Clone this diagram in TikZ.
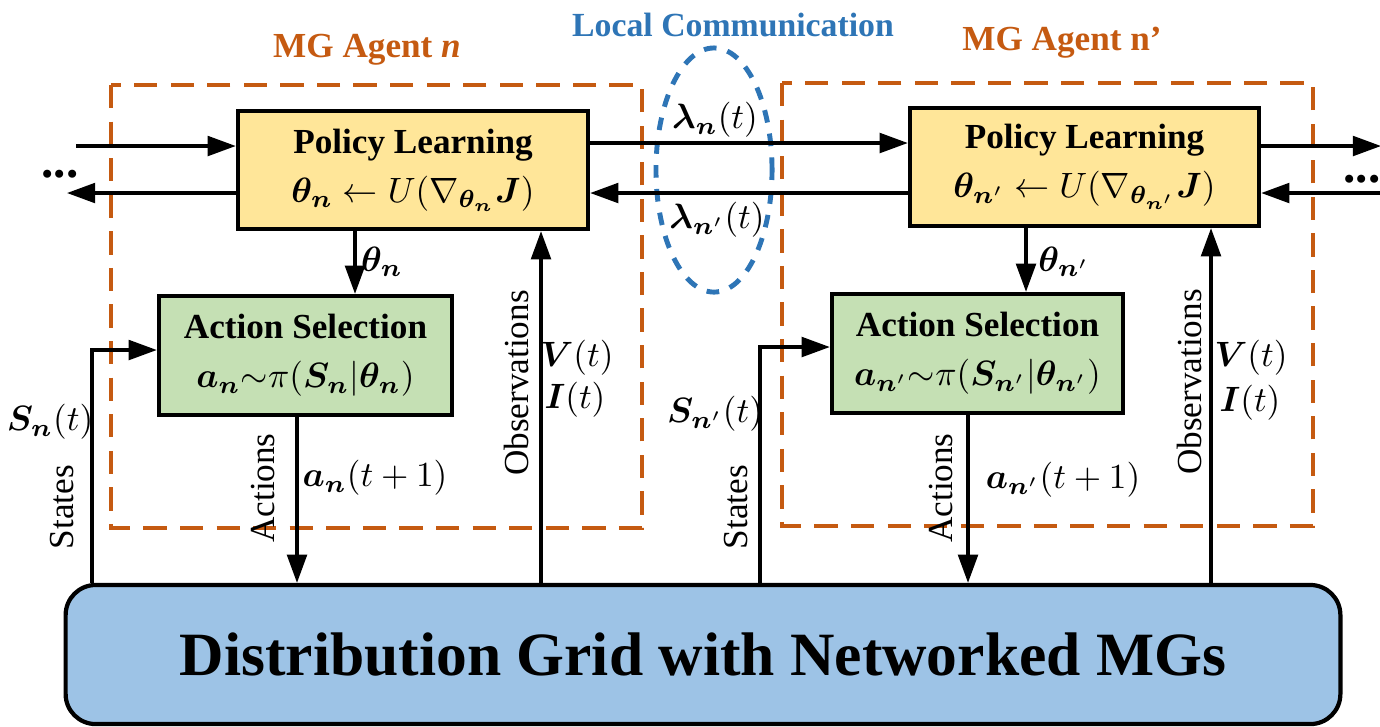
\documentclass[tikz,border=0pt]{standalone}
\usepackage{fontspec}
\setmainfont{Liberation Serif}
\usepackage{amsmath,bm}
\usetikzlibrary{arrows.meta,calc}

\definecolor{agentorange}{HTML}{C55A11}
\definecolor{commblue}{HTML}{2E75B6}
\definecolor{policyfill}{HTML}{FFE699}
\definecolor{actionfill}{HTML}{C5E0B4}
\definecolor{gridfill}{HTML}{9DC3E6}

\tikzset{
  block/.style={draw=black, line width=1.2pt, inner sep=0pt, align=center,
    font=\fontsize{10}{14}\selectfont},
  arr/.style={-{Triangle[length=8pt,width=5.6pt]}, line width=0.9pt},
  lbl/.style={inner sep=0pt, font=\fontsize{10}{12}\selectfont},
  vlbl/.style={inner sep=0pt, rotate=90, font=\fontsize{10}{12}\selectfont},
  title/.style={inner sep=0pt, font=\bfseries\fontsize{10}{12}\selectfont},
  agentbox/.style={draw=agentorange, line width=1.1pt, dash pattern=on 6.6pt off 3.8pt},
  commring/.style={draw=commblue, line width=1.4pt, dash pattern=on 3.6pt off 3.2pt},
  dots/.style={inner sep=0pt, anchor=base, font=\bfseries\fontsize{14}{14}\selectfont}
}

\begin{document}
\begin{tikzpicture}[x=0.01cm, y=-0.01cm]
\useasboundingbox (0,0) rectangle (1380,726);
\clip (0,0) rectangle (1380,726);

% agent frames
\draw[agentbox] (111,85) rectangle (642,528);
\draw[agentbox] (782,83) rectangle (1313,526);

% local communication ring
\draw[commring] (714,170) ellipse [x radius=0.58cm, y radius=1.22cm];

% titles
\node[title, text=agentorange] (tL) at (367,50) {MG Agent \textit{n}};
\node[title, text=agentorange] (tR) at (1062,43) {MG Agent n’};
\node[title, text=commblue, font=\bfseries\fontsize{9.6}{12}\selectfont] (tC) at (733,25) {Local Communication};

% blocks of agent n
\node[block, fill=policyfill, minimum width=3.5cm, minimum height=1.18cm] (PL) at (413,170)
  {\textbf{Policy Learning}\\ $\bm{\theta_n}\leftarrow U(\nabla_{\bm{\theta_n}}\bm{J})$};
\node[block, fill=actionfill, minimum width=2.93cm, minimum height=1.19cm] (AL) at (305.5,355.5)
  {\textbf{Action Selection}\\ $\bm{a_n}{\sim}\pi(\bm{S_n}|\bm{\theta_n})$};

% blocks of agent n'
\node[block, fill=policyfill, minimum width=3.49cm, minimum height=1.18cm] (PR) at (1084.5,167)
  {\textbf{Policy Learning}\\ $\bm{\theta}_{\bm{n}'}\leftarrow U(\nabla_{\bm{\theta}_{\bm{n}'}}\bm{J})$};
\node[block, fill=actionfill, minimum width=2.91cm, minimum height=1.19cm] (AR) at (977.5,353.5)
  {\textbf{Action Selection}\\ $\bm{a}_{\bm{n}'}{\sim}\pi(\bm{S}_{\bm{n}'}|\bm{\theta}_{\bm{n}'})$};

% distribution grid
\node[draw=black, line width=1.2pt, fill=gridfill, rounded corners=0.3cm,
  minimum width=12.74cm, minimum height=1.39cm, inner sep=0pt,
  font=\bfseries\fontsize{17.5}{20}\selectfont] (G) at (703,654.5)
  {Distribution Grid with Networked MGs};

% free ends and x positions of the vertical links
\coordinate (inL) at (76,146);
\coordinate (outL) at (67,193);
\coordinate (inR) at (1381,193);
\coordinate (outR) at (1381,146);
\coordinate (upmid) at (0,143);
\coordinate (lowmid) at (0,193);
\coordinate (thL) at (355,0);
\coordinate (obL) at (541,0);
\coordinate (acL) at (297,0);
\coordinate (stL) at (92,350);
\coordinate (thR) at (1026,0);
\coordinate (obR) at (1211,0);
\coordinate (acR) at (968,0);
\coordinate (stR) at (760,347);

% neighbour exchange
\draw[arr] (inL) -- (inL -| PL.west);
\draw[arr] (outL -| PL.west) -- (outL);
\draw[arr] (upmid -| PL.east) -- (upmid -| PR.west);
\draw[arr] (lowmid -| PR.west) -- (lowmid -| PL.east);
\draw[arr] (outR -| PR.east) -- (outR);
\draw[arr] (inR) -- (inR -| PR.east);
\node[dots] (dL) at (60,177) {...};
\node[dots] (dR) at (1362,182) {...};

% agent n links
\draw[arr] (thL |- PL.south) -- (thL |- AL.north);
\draw[arr] (obL |- G.north) -- (obL |- PL.south);
\draw[arr] (acL |- AL.south) -- (acL |- G.north);
\draw[arr] (stL |- G.north) -- (stL) -- (stL -| AL.west);

% agent n' links
\draw[arr] (thR |- PR.south) -- (thR |- AR.north);
\draw[arr] (obR |- G.north) -- (obR |- PR.south);
\draw[arr] (acR |- AR.south) -- (acR |- G.north);
\draw[arr] (stR |- G.north) -- (stR) -- (stR -| AR.west);

% signal labels
\node[lbl] (lamN) at (715,120) {$\bm{\lambda_n}(t)$};
\node[lbl] (lamNp) at (717,220) {$\bm{\lambda}_{\bm{n}'}(t)$};
\node[lbl] (thLl) at (382,262) {$\bm{\theta_n}$};
\node[lbl] (thRl) at (1064,262) {$\bm{\theta}_{\bm{n}'}$};
\node[lbl] (vL) at (577,358) {$\bm{V}(t)$};
\node[lbl] (iL) at (575,400) {$\bm{I}(t)$};
\node[lbl] (vR) at (1251,358) {$\bm{V}(t)$};
\node[lbl] (iR) at (1250,403) {$\bm{I}(t)$};
\node[lbl] (aL) at (375,478) {$\bm{a_n}(t+1)$};
\node[lbl] (aR) at (1063,480) {$\bm{a}_{\bm{n}'}(t+1)$};
\node[lbl] (sL) at (50,422) {$\bm{S_n}(t)$};
\node[lbl] (sR) at (715,414) {$\bm{S}_{\bm{n}'}(t)$};

% link names
\node[vlbl] (stLl) at (62,507) {States};
\node[vlbl] (acLl) at (263,488) {Actions};
\node[vlbl] (obLl) at (516,383) {Observations};
\node[vlbl] (stRl) at (736,507) {States};
\node[vlbl] (acRl) at (941,488) {Actions};
\node[vlbl] (obRl) at (1189,382) {Observations};
\end{tikzpicture}
\end{document}
